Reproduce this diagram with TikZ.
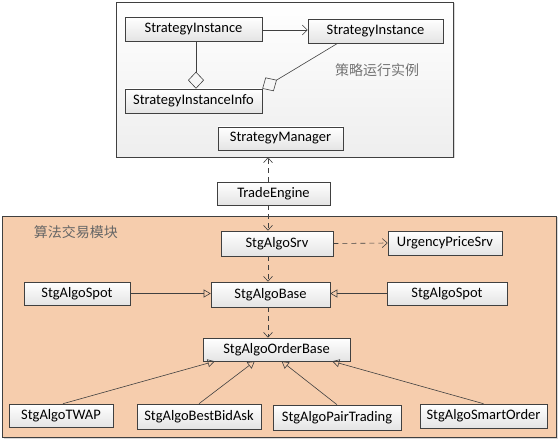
\documentclass[tikz,border=0pt]{standalone}
\usepackage{fontspec}
\setmainfont{Carlito}
\newfontfamily\cjk{Noto Sans CJK SC}
\usetikzlibrary{arrows.meta,calc,shadows}
\definecolor{edge}{HTML}{404040}
\definecolor{peach}{HTML}{F6CDAD}
\definecolor{boxbot}{HTML}{E4E4E4}
\tikzset{
  umlbox/.style={draw=edge, line width=0.6pt, top color=white, bottom color=boxbot,
    inner sep=0pt, font=\fontsize{14.5}{16}\selectfont,
    drop shadow={shadow xshift=1pt, shadow yshift=-1pt, opacity=0.25}},
  conn/.style={draw=edge, line width=0.6pt},
  dep/.style={conn, dash pattern=on 5pt off 4pt, -{Straight Barb[length=5pt,width=9pt]}},
  assoc/.style={conn, -{Straight Barb[length=5pt,width=10pt]}},
  agg/.style={conn, -{Diamond[open,length=17pt,width=16pt]}},
  gen/.style={conn, -{Triangle[open,length=7pt,width=8pt]}},
  cjklabel/.style={font=\cjk\fontsize{14}{16}\selectfont, inner sep=0pt}
}
\begin{document}
\begin{tikzpicture}[x=1pt,y=-1pt]
\useasboundingbox (0,0) rectangle (560,441);
% frames
\node[draw=edge, line width=0.6pt, top color=white, bottom color={rgb,255:red,238;green,238;blue,238},
  minimum width=337pt, minimum height=155pt, inner sep=0pt,
  drop shadow={shadow xshift=1.5pt, shadow yshift=-1.5pt, opacity=0.3}] (topframe) at (284.5,79.5) {};
\node[draw=edge, line width=0.6pt, fill=peach, minimum width=554pt, minimum height=221pt, inner sep=0pt,
  drop shadow={shadow xshift=1.5pt, shadow yshift=-1.5pt, opacity=0.3}] (algoframe) at (279,326.5) {};
\node[cjklabel, text=black!55] (lbltop) at (377,70) {策略运行实例};
\node[cjklabel, text=black!60] (lblalgo) at (76,232) {算法交易模块};
% boxes
\node[umlbox, minimum width=137pt, minimum height=24pt] (SI1) at (193.5,29) {StrategyInstance};
\node[umlbox, minimum width=135pt, minimum height=24pt] (SI2) at (375.5,31) {StrategyInstance};
\node[umlbox, minimum width=137pt, minimum height=24pt] (SII) at (193.5,101) {StrategyInstanceInfo};
\node[umlbox, minimum width=125pt, minimum height=23pt] (SM) at (280.5,138.5) {StrategyManager};
\node[umlbox, minimum width=113pt, minimum height=23pt] (TE) at (273.5,193.5) {TradeEngine};
\node[umlbox, minimum width=112pt, minimum height=25pt] (Srv) at (277,243.5) {StgAlgoSrv};
\node[umlbox, minimum width=114pt, minimum height=24pt] (Urg) at (445,243) {UrgencyPriceSrv};
\node[umlbox, minimum width=106pt, minimum height=23pt] (SpotL) at (77,293.5) {StgAlgoSpot};
\node[umlbox, minimum width=119pt, minimum height=25pt] (Base) at (270.5,294.5) {StgAlgoBase};
\node[umlbox, minimum width=120pt, minimum height=23pt] (SpotR) at (447,293.5) {StgAlgoSpot};
\node[umlbox, minimum width=147pt, minimum height=23pt] (OB) at (276.5,349.5) {StgAlgoOrderBase};
\node[umlbox, minimum width=104pt, minimum height=23pt] (TWAP) at (61,415.5) {StgAlgoTWAP};
\node[umlbox, minimum width=124pt, minimum height=25pt] (BBA) at (199,416.5) {StgAlgoBestBidAsk};
\node[umlbox, minimum width=128pt, minimum height=25pt] (PT) at (337,417.5) {StgAlgoPairTrading};
\node[umlbox, minimum width=127pt, minimum height=24pt] (SO) at (483.5,416) {StgAlgoSmartOrder};
\coordinate (col) at (268,0);
% connectors
\draw[assoc] (SI1.east |- 0,30) -- (SI2.west |- 0,30);
\draw[agg] ($(SI1.south)+(2.5,0)$) -- ($(SII.north)+(2.5,0)$);
\draw[agg] ($(SI2.south west)+(30,0)$) -- (SII.north east);
\draw[dep] (TE.north -| col) -- (topframe.south -| col);
\draw[dep] (TE.south -| col) -- (Srv.north -| col);
\draw[dep] (Srv.east) -- (Urg.west);
\draw[dep] (Srv.south -| col) -- (Base.north -| col);
\draw[dep] (Base.south -| col) -- (OB.north -| col);
\draw[gen] (SpotL.east) -- (SpotL.east -| Base.west);
\draw[gen] (SpotR.west) -- (SpotR.west -| Base.east);
\draw[gen] ($(TWAP.north)+(2,0)$) -- ($(OB.south west)+(12,0)$);
\draw[gen] (BBA.north) -- ($(OB.south west)+(52,0)$);
\draw[gen] (PT.north) -- ($(OB.south west)+(79,0)$);
\draw[gen] (SO.north) -- ($(OB.south east)+(-18,0)$);
\end{tikzpicture}
\end{document}
